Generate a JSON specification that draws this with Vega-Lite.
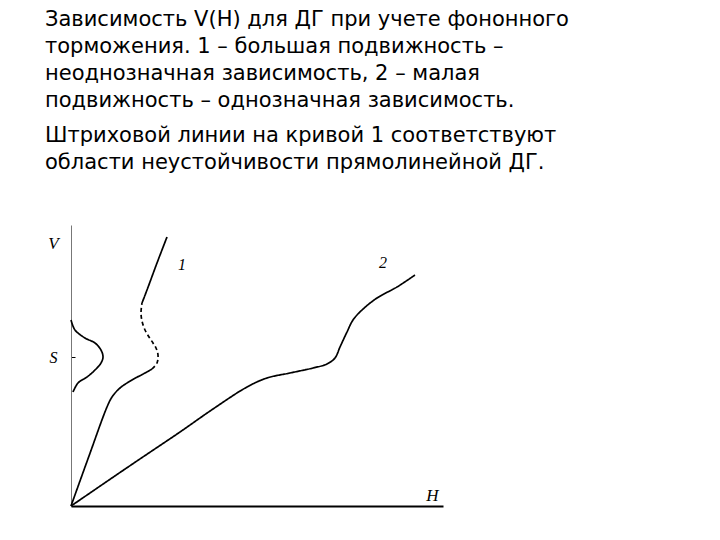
{
  "$schema": "https://vega.github.io/schema/vega-lite/v6.json",
  "width": 372,
  "height": 281,
  "autosize": {"type": "none"},
  "padding": {"left": 71, "top": 225, "right": 277, "bottom": 34},
  "background": "white",
  "config": {"view": {"stroke": null}},
  "title": {
    "text": [
      "Зависимость V(H) для ДГ при учете фононного",
      "торможения. 1 – большая подвижность –",
      "неоднозначная зависимость, 2 – малая",
      "подвижность – однозначная зависимость."
    ],
    "subtitle": [
      "Штриховой линии на кривой 1 соответствуют",
      "области неустойчивости прямолинейной ДГ."
    ],
    "anchor": "start",
    "frame": "group",
    "dx": -26,
    "offset": 52,
    "font": "DejaVu Sans",
    "fontSize": 21,
    "fontWeight": "normal",
    "color": "#000000",
    "lineHeight": 27,
    "subtitleFont": "DejaVu Sans",
    "subtitleFontSize": 21,
    "subtitleFontWeight": "normal",
    "subtitleColor": "#000000",
    "subtitleLineHeight": 27,
    "subtitlePadding": 14
  },
  "datasets": {
    "curves": [
      {"series": "2", "style": "solid", "order": 1, "h": 0, "v": 0},
      {"series": "2", "style": "solid", "order": 2, "h": 60, "v": 41},
      {"series": "2", "style": "solid", "order": 3, "h": 109, "v": 74},
      {"series": "2", "style": "solid", "order": 4, "h": 142, "v": 97},
      {"series": "2", "style": "solid", "order": 5, "h": 176, "v": 119},
      {"series": "2", "style": "solid", "order": 6, "h": 196, "v": 128},
      {"series": "2", "style": "solid", "order": 7, "h": 219, "v": 133},
      {"series": "2", "style": "solid", "order": 8, "h": 242, "v": 138},
      {"series": "2", "style": "solid", "order": 9, "h": 256, "v": 142},
      {"series": "2", "style": "solid", "order": 10, "h": 264, "v": 148},
      {"series": "2", "style": "solid", "order": 11, "h": 269, "v": 159},
      {"series": "2", "style": "solid", "order": 12, "h": 276, "v": 174},
      {"series": "2", "style": "solid", "order": 13, "h": 282, "v": 186},
      {"series": "2", "style": "solid", "order": 14, "h": 291, "v": 196},
      {"series": "2", "style": "solid", "order": 15, "h": 306, "v": 208},
      {"series": "2", "style": "solid", "order": 16, "h": 326, "v": 219},
      {"series": "2", "style": "solid", "order": 17, "h": 344, "v": 231},

      {"series": "1a", "style": "solid", "order": 1, "h": 0, "v": 0},
      {"series": "1a", "style": "solid", "order": 2, "h": 18, "v": 50},
      {"series": "1a", "style": "solid", "order": 3, "h": 36, "v": 99},
      {"series": "1a", "style": "solid", "order": 4, "h": 41, "v": 109},
      {"series": "1a", "style": "solid", "order": 5, "h": 49, "v": 118},
      {"series": "1a", "style": "solid", "order": 6, "h": 61, "v": 126},
      {"series": "1a", "style": "solid", "order": 7, "h": 74, "v": 133},
      {"series": "1a", "style": "solid", "order": 8, "h": 81, "v": 137},

      {"series": "1b", "style": "dashed", "order": 1, "h": 81, "v": 137},
      {"series": "1b", "style": "dashed", "order": 2, "h": 86, "v": 143},
      {"series": "1b", "style": "dashed", "order": 3, "h": 87, "v": 151},
      {"series": "1b", "style": "dashed", "order": 4, "h": 85, "v": 158},
      {"series": "1b", "style": "dashed", "order": 5, "h": 82, "v": 163},
      {"series": "1b", "style": "dashed", "order": 6, "h": 78, "v": 169},
      {"series": "1b", "style": "dashed", "order": 7, "h": 74, "v": 176},
      {"series": "1b", "style": "dashed", "order": 8, "h": 71, "v": 185},
      {"series": "1b", "style": "dashed", "order": 9, "h": 70, "v": 193},
      {"series": "1b", "style": "dashed", "order": 10, "h": 71, "v": 203},

      {"series": "1c", "style": "solid", "order": 1, "h": 71, "v": 203},
      {"series": "1c", "style": "solid", "order": 2, "h": 76, "v": 216},
      {"series": "1c", "style": "solid", "order": 3, "h": 86, "v": 243},
      {"series": "1c", "style": "solid", "order": 4, "h": 96, "v": 269},

      {"series": "b", "style": "solid", "order": 1, "h": 0, "v": 186},
      {"series": "b", "style": "solid", "order": 2, "h": 4, "v": 176},
      {"series": "b", "style": "solid", "order": 3, "h": 14, "v": 168},
      {"series": "b", "style": "solid", "order": 4, "h": 24, "v": 163},
      {"series": "b", "style": "solid", "order": 5, "h": 30, "v": 156},
      {"series": "b", "style": "solid", "order": 6, "h": 32, "v": 149},
      {"series": "b", "style": "solid", "order": 7, "h": 30, "v": 143},
      {"series": "b", "style": "solid", "order": 8, "h": 24, "v": 136},
      {"series": "b", "style": "solid", "order": 9, "h": 16, "v": 129},
      {"series": "b", "style": "solid", "order": 10, "h": 7, "v": 123},
      {"series": "b", "style": "solid", "order": 11, "h": 2, "v": 114}
    ],
    "labels": [
      {"h": 111, "v": 241, "label": "1"},
      {"h": 312, "v": 243, "label": "2"}
    ]
  },
  "layer": [
    {
      "data": {"name": "curves"},
      "mark": {"type": "line", "interpolate": "catmull-rom", "color": "#000000", "strokeWidth": 1.7},
      "encoding": {
        "x": {
          "field": "h", "type": "quantitative",
          "scale": {"domain": [0, 372], "nice": false, "zero": false},
          "axis": {
            "domainColor": "#000000", "domainWidth": 2, "ticks": false, "labels": false, "grid": false,
            "title": "H", "titleX": 361, "titleY": -11, "titleAngle": 0, "titleBaseline": "middle", "titleAlign": "center",
            "titleFont": "Liberation Serif", "titleFontStyle": "italic", "titleFontWeight": "normal", "titleFontSize": 17, "titleColor": "#000000"
          }
        },
        "y": {
          "field": "v", "type": "quantitative",
          "scale": {"domain": [0, 281], "nice": false, "zero": false},
          "axis": {
            "values": [149], "labelExpr": "'S'", "ticks": true, "tickSize": -4, "tickColor": "#000000", "tickWidth": 1,
            "labelPadding": 18, "labelFont": "Liberation Serif", "labelFontStyle": "italic", "labelFontSize": 16, "labelColor": "#000000",
            "domainColor": "#777777", "domainWidth": 1, "grid": false,
            "title": "V", "titleAngle": 0, "titleX": -18, "titleY": 18, "titleBaseline": "middle", "titleAlign": "center",
            "titleFont": "Liberation Serif", "titleFontStyle": "italic", "titleFontWeight": "normal", "titleFontSize": 17, "titleColor": "#000000"
          }
        },
        "detail": {"field": "series"},
        "order": {"field": "order", "type": "quantitative"},
        "strokeDash": {
          "field": "style", "type": "nominal",
          "scale": {"domain": ["solid", "dashed"], "range": [[1, 0], [4, 3]]},
          "legend": null
        }
      }
    },
    {
      "data": {"name": "labels"},
      "mark": {"type": "text", "font": "Liberation Serif", "fontStyle": "italic", "fontSize": 16, "color": "#000000"},
      "encoding": {
        "x": {"field": "h", "type": "quantitative"},
        "y": {"field": "v", "type": "quantitative"},
        "text": {"field": "label"}
      }
    }
  ]
}
